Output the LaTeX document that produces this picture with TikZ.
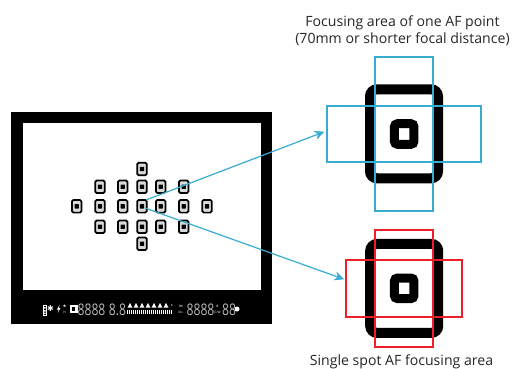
\documentclass[tikz,border=0pt]{standalone}
\usepackage{fontspec}
\setmainfont{Open Sans}
\newfontfamily\sym{DejaVu Sans}
\usetikzlibrary{arrows.meta}
\definecolor{afblue}{RGB}{56,172,208}
\definecolor{afred}{RGB}{237,32,41}
\tikzset{
  x=1pt,y=-1pt,
  frameB/.style={draw=black,rounded corners=7pt,line width=10pt,minimum width=68pt,minimum height=89pt,inner sep=0pt,fill=white},
  coreB/.style={draw=black,rounded corners=3pt,line width=9pt,minimum width=19.5pt,minimum height=20.5pt,inner sep=0pt,fill=white},
  frameS/.style={draw=black,rounded corners=1.5pt,line width=1.7pt,minimum width=9.6pt,minimum height=12.6pt,inner sep=0pt,fill=white!85!black},
  coreS/.style={draw=none,fill=black,minimum width=4.2pt,minimum height=4.4pt,inner sep=0pt,rounded corners=.5pt},
  areaB/.style={draw=afblue,line width=2.1pt,inner sep=0pt},
  areaR/.style={draw=afred,line width=2.1pt,inner sep=0pt},
  callout/.style={draw=afblue,line width=1.2pt,-{Stealth[length=10pt,width=9pt]}},
  caption/.style={font=\fontsize{14.1}{17.5}\selectfont,align=center,text=black!85,inner sep=0pt},
  digits/.style={font=\fontsize{16}{16}\selectfont,text=white!72!black,inner sep=0pt},
  mini/.style={font=\sym\fontsize{8}{8}\selectfont,text=white,inner sep=0pt},
  micro/.style={font=\sym\fontsize{3}{3}\selectfont,text=white,inner sep=0pt,align=center},
}
\newcommand{\afpt}[3]{\node[frameS] (#1) at (#2,#3) {}; \node[coreS] (#1c) at (#2,#3) {};}
\newcommand{\dg}[1]{\scalebox{.76}[1]{#1}}
\begin{document}
\begin{tikzpicture}
\useasboundingbox (0,0) rectangle (512,369);
\fill[white] (0,0) rectangle (512,369);
% viewfinder
\node[fill=black,minimum width=261pt,minimum height=212pt,inner sep=0pt] (vf) at (141.7,218.2) {};
\node[fill=white,minimum width=238.5pt,minimum height=167.5pt,inner sep=0pt] (screen) at (141.9,206.4) {};
% AF points
\afpt{a1}{142}{169}
\afpt{b1}{100}{186.7}\afpt{b2}{122.7}{186.7}\afpt{b3}{142}{186.7}\afpt{b4}{160.7}{186.7}\afpt{b5}{183.7}{186.7}
\afpt{c0}{76.7}{206.3}\afpt{c1}{100}{206.3}\afpt{c2}{122.7}{206.3}\afpt{c3}{142}{206.3}\afpt{c4}{160.7}{206.3}\afpt{c5}{183.7}{206.3}\afpt{c6}{207}{206.3}
\afpt{d1}{100}{226.7}\afpt{d2}{122.7}{226.7}\afpt{d3}{142}{226.7}\afpt{d4}{160.7}{226.7}\afpt{d5}{183.7}{226.7}
\afpt{e1}{142}{243.7}
% LCD strip
\node[digits] (l1) at (91.5,309.5) {\dg{8888}};
\node[digits] (l2) at (117.5,309.5) {\dg{8.8}};
\node[digits] (l3) at (200.5,309.5) {\dg{8888}};
\node[digits] (l4) at (229,309.5) {\dg{88}};
\node[mini] (l5) at (50.5,309) {✱};
\fill[white] (59.5,305) -- (57,309.5) -- (58.7,309.5) -- (57.8,313) -- (60.5,308) -- (58.8,308) -- cycle;
\node[mini,font=\sym\fontsize{3.5}{3.5}\selectfont] (l7) at (64.5,306) {✱};
\node[micro] (l7b) at (64.5,312.5) {H};
\node[fill=white,circle,minimum size=5pt,inner sep=0pt] (l8) at (237,309) {};
\draw[white,line width=.7pt] (43,305) rectangle (46.5,315);
\fill[white] (44,307) rectangle (45.5,308.5) (44,310) rectangle (45.5,311.5) (44,312.5) rectangle (45.5,314);
\fill[white] (69.5,305) rectangle (77.5,313);
\fill[black] (71.5,307) rectangle (75,311);
\fill[white] (127,309.5) rectangle (173,314);
\foreach \i in {128,130,...,172}{\draw[black,line width=.6pt] (\i,310) -- (\i,314);}
\foreach \i in {130,136,...,166}{\fill[white] (\i-2.4,307.5) -- (\i,303) -- (\i+2.4,307.5) -- cycle;}
\node[micro] (l9) at (172,305.5) {±};
\node[micro] (l10a) at (181,306) {B0};
\node[micro] (l10b) at (181,312) {D+};
\node[micro] (l11a) at (217.5,306) {B};
\node[micro] (l11b) at (217.5,313) {C/W};
% big symbols
\node[frameB] (fb) at (404,133.8) {};
\node[coreB] (cb) at (404.2,134) {};
\node[areaB,minimum width=57.4pt,minimum height=154pt] (vb) at (404,133.7) {};
\node[areaB,minimum width=154.6pt,minimum height=56.3pt] (hb) at (404,134.2) {};
\node[frameB] (fr) at (404.2,288.4) {};
\node[coreB] (cr) at (404.2,288.3) {};
\node[areaR,minimum width=57.7pt,minimum height=116.7pt] (vr) at (403.8,288.3) {};
\node[areaR,minimum width=116.6pt,minimum height=57pt] (hr) at (404,288.5) {};
% captions
\node[caption] (t1) at (402.5,30.5) {Focusing area of one AF point\\(70mm or shorter focal distance)};
\node[caption] (t2) at (401.5,361.5) {Single spot AF focusing area};
% connectors
\coordinate (s1) at (146,200);
\coordinate (s2) at (145,208);
\coordinate (e1) at (324.5,131.7);
\coordinate (e2) at (344.3,279.3);
\draw[callout] (s1) -- (e1);
\draw[callout] (s2) -- (e2);
\end{tikzpicture}
\end{document}
